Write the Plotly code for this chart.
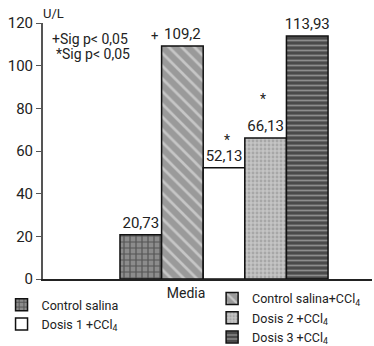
import plotly.graph_objects as go

category = ["Media"]
series_names = ["Control salina", "Control salina+CCl<sub>4</sub>", "Dosis 1 +CCl<sub>4</sub>",
                "Dosis 2 +CCl<sub>4</sub>", "Dosis 3 +CCl<sub>4</sub>"]
values = [20.73, 109.2, 52.13, 66.13, 113.93]
value_labels = ["20,73", "109,2", "52,13", "66,13", "113,93"]
y_ticks = [0, 20, 40, 60, 80, 100, 120]

FONT = "Liberation Sans Narrow, Arial Narrow, Roboto, Liberation Sans, sans-serif"
styles = [
    dict(color="#8c8c8c", pattern=dict(shape="+", fgcolor="#1a1a1a", bgcolor="#8c8c8c", size=6, solidity=0.35)),
    dict(color="#a8a8a8", pattern=dict(shape="\\", fgcolor="#f2f2f2", bgcolor="#9a9a9a", size=9, solidity=0.3)),
    dict(color="white"),
    dict(color="#b5b5b5", pattern=dict(shape=".", fgcolor="#8a8a8a", bgcolor="#c4c4c4", size=4, solidity=0.4)),
    dict(color="#5a5a5a", pattern=dict(shape="-", fgcolor="#d0d0d0", bgcolor="#4a4a4a", size=5, solidity=0.35)),
]
legend_ids = ["legend", "legend2", "legend", "legend2", "legend2"]

fig = go.Figure()
for name, v, lab, st, lg in zip(series_names, values, value_labels, styles, legend_ids):
    fig.add_trace(go.Bar(
        x=category, y=[v], name=name, text=[lab], textposition="outside",
        constraintext="none",
        textfont=dict(family=FONT, size=15, color="#222"), cliponaxis=False,
        marker=dict(line=dict(color="#111", width=1.5), **st), legend=lg,
    ))

fig.update_layout(
    width=374, height=346, plot_bgcolor="white", paper_bgcolor="white",
    margin=dict(l=43, r=2, t=23, b=67, autoexpand=False),
    barmode="group", bargap=0.2, bargroupgap=0,
    font=dict(family=FONT, size=14, color="#222"),
    showlegend=True,
    legend=dict(x=-0.126, y=-0.043, xanchor="left", yanchor="top", bgcolor="rgba(0,0,0,0)",
                font=dict(family=FONT, size=12.5, color="#222"), tracegroupgap=0, itemwidth=30),
    legend2=dict(x=0.514, y=-0.019, xanchor="left", yanchor="top", bgcolor="rgba(0,0,0,0)",
                 font=dict(family=FONT, size=12.5, color="#222"), tracegroupgap=0, itemwidth=30),
)
fig.update_xaxes(range=[-0.696, 0.569], showline=True, linecolor="#222", linewidth=1.5,
                 ticks="", tickfont=dict(family=FONT, size=14, color="#222"), automargin=False,
                 ticklabelshift=-38, showgrid=False, zeroline=False)
fig.update_yaxes(range=[0, 120], tickvals=y_ticks, showline=True, linecolor="#555", linewidth=2,
                 ticks="outside", ticklen=5, tickcolor="#555", automargin=False,
                 tickfont=dict(family=FONT, size=15, color="#222"),
                 showgrid=False, zeroline=False)

annots = [
    dict(x=-0.005, y=1.0, xref="paper", yref="paper", text="U/L", xanchor="left", yanchor="bottom", size=13),
    dict(x=0.02, y=0.937, xref="paper", yref="paper", text="+Sig p< 0,05", xanchor="left", yanchor="middle", size=14),
    dict(x=0.033, y=0.878, xref="paper", yref="paper", text="*Sig p< 0,05", xanchor="left", yanchor="middle", size=14),
    dict(x=0.34, y=0.95, xref="paper", yref="paper", text="+", xanchor="center", yanchor="middle", size=13),
    dict(x=0.558, y=0.544, xref="paper", yref="paper", text="*", xanchor="center", yanchor="middle", size=14),
    dict(x=0.67, y=0.704, xref="paper", yref="paper", text="*", xanchor="center", yanchor="middle", size=14),
]
for a in annots:
    s = a.pop("size")
    fig.add_annotation(showarrow=False, font=dict(family=FONT, size=s, color="#222"), **a)

fig.write_html("out.html", config={"displayModeBar": False},
               post_script="document.body.style.margin='0';document.body.style.overflow='hidden';")
